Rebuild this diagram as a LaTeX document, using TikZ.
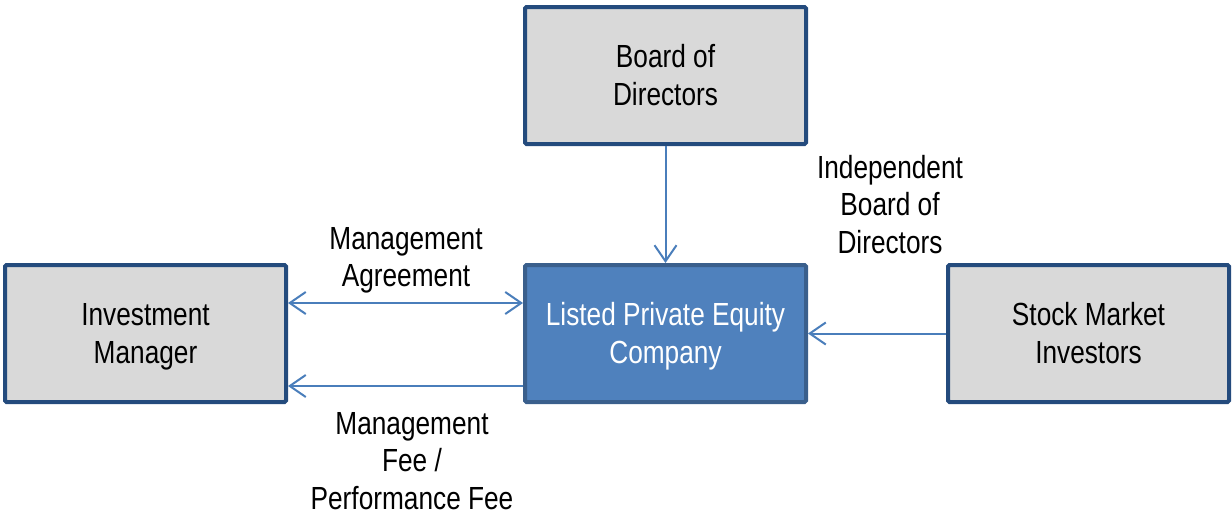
\documentclass[tikz,border=0pt]{standalone}
\usepackage{fontspec}
\setmainfont[FakeStretch=0.82]{Liberation Sans}
\usetikzlibrary{arrows.meta}
\definecolor{boxborder}{RGB}{36,75,125}
\definecolor{boxfill}{RGB}{217,217,217}
\definecolor{lpefill}{RGB}{79,129,189}
\definecolor{lpeborder}{RGB}{58,95,140}
\definecolor{arrowblue}{RGB}{74,126,187}
\newcommand\ls{\rule[-7pt]{0pt}{36pt}}
\tikzset{
  box/.style={draw=boxborder, fill=boxfill, line width=4pt, rounded corners=1.5pt,
    minimum width=281pt, minimum height=137pt, align=center, inner sep=0pt,
    font=\fontsize{32}{38}\selectfont},
  lpebox/.style={box, draw=lpeborder, fill=lpefill, text=white},
  lbl/.style={align=center, inner sep=0pt, font=\fontsize{32}{37.5}\selectfont},
  arr/.style={draw=arrowblue, line width=2pt, -{Straight Barb[length=16pt,width=22pt]}},
  darr/.style={draw=arrowblue, line width=2pt, {Straight Barb[length=16pt,width=22pt]}-{Straight Barb[length=16pt,width=22pt]}}
}
\begin{document}
\begin{tikzpicture}[x=1pt,y=-1pt]
\useasboundingbox (0,0) rectangle (1232,515);
\node[box] (bod) at (665.5,75.5) {\ls Board of\\\ls Directors};
\node[lpebox] (lpe) at (665.5,333.5) {\ls Listed Private Equity\\\ls Company};
\node[box] (im) at (145.5,333.5) {\ls Investment\\\ls Manager};
\node[box] (sm) at (1088.5,333.5) {\ls Stock Market\\\ls Investors};
\coordinate (yA) at (0,303);
\coordinate (yB) at (0,386);
\draw[darr] (im.east |- yA) -- (lpe.west |- yA);
\draw[arr] (lpe.west |- yB) -- (im.east |- yB);
\draw[arr] (sm.west) -- (lpe.east);
\draw[arr] (bod.south) -- (lpe.north);
\node[lbl] (ma) at (406,257) {\ls Management\\\ls Agreement};
\node[lbl] (mf) at (412,460.5) {\ls Management\\\ls Fee /\\\ls Performance Fee};
\node[lbl] (ibd) at (890,204.5) {\ls Independent\\\ls Board of\\\ls Directors};
\end{tikzpicture}
\end{document}
